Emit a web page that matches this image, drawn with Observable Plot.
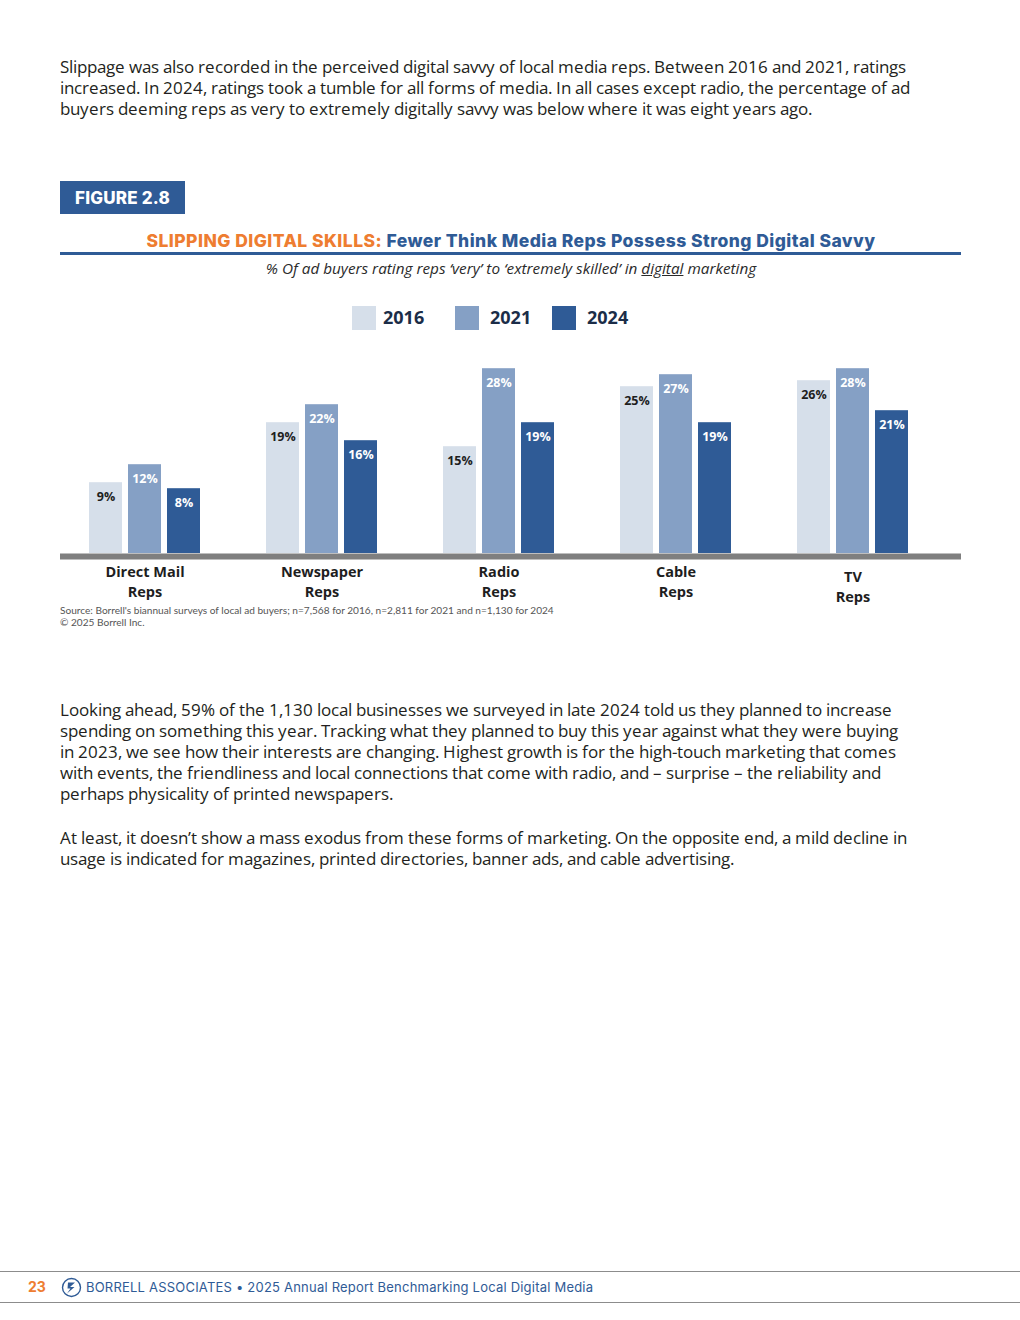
<!DOCTYPE html>
<html>
<head>
<meta charset="utf-8">
<script src="https://cdn.jsdelivr.net/npm/d3@7"></script>
<script src="https://cdn.jsdelivr.net/npm/@observablehq/plot@0.6"></script>
<style>
  @font-face {
    font-family: "OpenSansTight";
    src: local("Open Sans Regular"), local("OpenSans-Regular"), local("Open Sans");
    font-weight: 400;
    ascent-override: 97%;
    descent-override: 20%;
    line-gap-override: 0%;
  }
  html, body { margin: 0; padding: 0; background: #fff; }
  body { width: 1020px; height: 1320px; position: relative; font-family: "Open Sans", sans-serif; color: #231f20; }
  .abs { position: absolute; }
  .para { left: 60px; font-family: "OpenSansTight", "Open Sans", sans-serif; font-size: 17.2px; white-space: nowrap; color: #231f20; }
  .para div { height: 21px; line-height: 21px; }
  .figlabel { left: 60px; top: 181px; width: 125px; height: 33px; background: #2f5b96; color: #fff;
    font-family: Inter, sans-serif; font-weight: 800; font-size: 17px; line-height: 35px; text-align: center; letter-spacing: 0.2px; }
  .title { left: 60px; width: 902px; top: 229px; text-align: center; font-family: Inter, sans-serif; font-weight: 800; font-size: 17.5px; line-height: 24px; white-space: nowrap; letter-spacing: 0.45px; }
  .title .o { color: #ee7d31; }
  .title .b { color: #2f5b96; }
  .rule { left: 60px; width: 901px; top: 252px; height: 3px; background: #2f5b96; }
  .subtitle { left: 60px; width: 902px; top: 258px; text-align: center; font-style: italic; font-size: 15.3px; line-height: 20px; color: #2a2a2a; }
  .legend { top: 306px; left: 0; }
  .legend .sw { position: absolute; width: 24px; height: 24px; top: 0; }
  .legend .lt { position: absolute; top: -3px; font-weight: 700; font-size: 18px; line-height: 28px; color: #1b2d48; }
  .source { left: 60px; top: 604px; font-family: Lato, sans-serif; font-size: 10.1px; line-height: 12px; color: #555; white-space: nowrap; }
  .source div { height: 12px; }
  .hline { left: 0; width: 1020px; height: 1px; background: #8c8c8c; }
  .pnum { left: 28px; top: 1278px; font-family: Inter, sans-serif; font-weight: 700; font-size: 14px; color: #ee7d31; }
  .foot { left: 86px; top: 1279px; font-family: Inter, sans-serif; font-size: 13px; color: #2f5b96; white-space: nowrap; letter-spacing: 0.21px; }
</style>
</head>
<body>
<div class="abs para" style="top:56px">
  <div>Slippage was also recorded in the perceived digital savvy of local media reps. Between 2016 and 2021, ratings</div>
  <div>increased. In 2024, ratings took a tumble for all forms of media. In all cases except radio, the percentage of ad</div>
  <div>buyers deeming reps as very to extremely digitally savvy was below where it was eight years ago.</div>
</div>

<div class="abs figlabel">FIGURE 2.8</div>
<div class="abs title"><span class="o">SLIPPING DIGITAL SKILLS:</span> <span class="b">Fewer Think Media Reps Possess Strong Digital Savvy</span></div>
<div class="abs rule"></div>
<div class="abs subtitle">% Of ad buyers rating reps ‘very’ to ‘extremely skilled’ in <u>digital</u> marketing</div>

<div class="abs legend" id="legend"></div>
<div class="abs" id="chart" style="left:0; top:340px;"></div>

<div class="abs source">
  <div>Source: Borrell's biannual surveys of local ad buyers; n=7,568 for 2016, n=2,811 for 2021 and n=1,130 for 2024</div>
  <div>© 2025 Borrell Inc.</div>
</div>

<div class="abs para" style="top:699px">
  <div>Looking ahead, 59% of the 1,130 local businesses we surveyed in late 2024 told us they planned to increase</div>
  <div>spending on something this year. Tracking what they planned to buy this year against what they were buying</div>
  <div>in 2023, we see how their interests are changing. Highest growth is for the high-touch marketing that comes</div>
  <div>with events, the friendliness and local connections that come with radio, and – surprise – the reliability and</div>
  <div>perhaps physicality of printed newspapers.</div>
</div>
<div class="abs para" style="top:827px">
  <div>At least, it doesn’t show a mass exodus from these forms of marketing. On the opposite end, a mild decline in</div>
  <div>usage is indicated for magazines, printed directories, banner ads, and cable advertising.</div>
</div>

<div class="abs hline" style="top:1271px"></div>
<div class="abs hline" style="top:1302px"></div>
<div class="abs pnum">23</div>
<svg class="abs" style="left:61px; top:1277px" width="21" height="21" viewBox="0 0 21 21">
  <circle cx="10.5" cy="10.5" r="9" fill="none" stroke="#2f5b96" stroke-width="1.4"/>
  <path d="M7 5.5 L14 5.5 L9 10 L13.5 10 L6 16.5 L9.5 11.5 L6.5 11.5 Z" fill="#2f5b96"/>
</svg>
<div class="abs foot">BORRELL ASSOCIATES • 2025 Annual Report Benchmarking Local Digital Media</div>

<script>
// ---- data ----
const categories = ["Direct Mail\nReps", "Newspaper\nReps", "Radio\nReps", "Cable\nReps", "TV\nReps"];
const years = ["2016", "2021", "2024"];
const values2016 = [9, 19, 15, 25, 26];
const values2021 = [12, 22, 28, 27, 28];
const values2024 = [8, 16, 19, 19, 21];

// ---- styles ----
const yearColors = { "2016": "#d6dfea", "2021": "#85a0c5", "2024": "#2f5b96" };
const labelColors = { "2016": "#1e1e1e", "2021": "#ffffff", "2024": "#ffffff" };
const yearOffsets = { "2016": -39, "2021": 0, "2024": 39 };
const yFloor = -2.8;

const seriesByYear = { "2016": values2016, "2021": values2021, "2024": values2024 };
const rows = years.flatMap(y => categories.map((c, i) => ({ cat: c, year: y, value: seriesByYear[y][i] })));

// legend
const legend = document.getElementById("legend");
const legendPos = { "2016": [352, 383], "2021": [455, 490], "2024": [552, 587] };
years.forEach(y => {
  const sw = document.createElement("div");
  sw.className = "sw"; sw.style.left = legendPos[y][0] + "px"; sw.style.background = yearColors[y];
  const t = document.createElement("div");
  t.className = "lt"; t.style.left = legendPos[y][1] + "px"; t.textContent = y;
  legend.appendChild(sw); legend.appendChild(t);
});

const marks = [];
years.forEach(y => {
  const d = rows.filter(r => r.year === y);
  marks.push(Plot.barY(d, { x: "cat", y1: yFloor, y2: "value", fill: yearColors[y], dx: yearOffsets[y], inset: 0 }));
  marks.push(Plot.text(d, { x: "cat", y: "value", text: r => r.value + "%", dx: yearOffsets[y], dy: 14,
    fill: labelColors[y], fontSize: 12.5, fontWeight: 700 }));
});
marks.push(Plot.ruleY([yFloor], { stroke: "#7f7f7f", strokeWidth: 6, dy: 3 }));
const axisStyle = { tickSize: 0, tickPadding: 10, fontSize: 14.5, fontWeight: 700, fill: "#1e1e1e", lineHeight: 1.35, label: null };
marks.push(Plot.axisX({ ...axisStyle, ticks: categories.slice(0, 4) }));
marks.push(Plot.axisX({ ...axisStyle, ticks: categories.slice(4), dy: 5 }));

const chart = Plot.plot({
  width: 1020,
  height: 270,
  marginLeft: 60,
  marginRight: 59,
  marginTop: 0,
  marginBottom: 57,
  style: { fontFamily: "Open Sans, sans-serif", background: "transparent", overflow: "visible" },
  x: { domain: categories, paddingInner: 0.8137, paddingOuter: 0.45, align: 0.426, axis: null },
  y: { domain: [yFloor, 32.7], axis: null },
  marks
});
document.getElementById("chart").appendChild(chart);
</script>
</body>
</html>
